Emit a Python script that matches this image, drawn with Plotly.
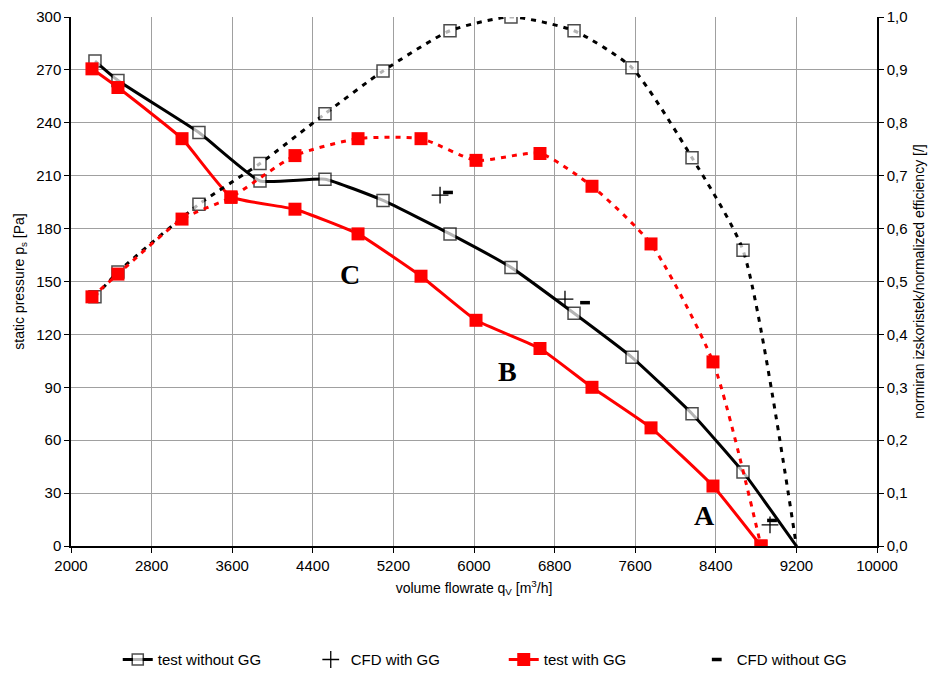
import plotly.graph_objects as go

# ---- data ----
q_nogg = [2238, 2466, 3270, 3876, 4521, 5097, 5762, 6367, 6993, 7568, 8164, 8670, 9200]
p_nogg = [275, 264, 234.5, 207, 208, 196, 177, 158, 132, 107, 75, 42, 0]
eff_nogg = [0.471, 0.518, 0.646, 0.723, 0.817, 0.898, 0.974, 1.0, 0.974, 0.904, 0.734, 0.559, 0.0]

q_gg = [2208, 2466, 3102, 3588, 4223, 4849, 5474, 6020, 6655, 7171, 7757, 8372, 8849]
p_gg = [270.6, 260, 231, 198, 191, 177, 153, 128, 112, 90, 67, 34, 0]
eff_gg = [0.471, 0.514, 0.618, 0.659, 0.738, 0.770, 0.770, 0.729, 0.742, 0.680, 0.571, 0.348, 0.0]

q_cfd_gg = [5663, 6903, 8938]
p_cfd_gg = [199, 140, 12]
q_cfd_nogg = [5742, 7102, 8958]
p_cfd_nogg = [200.5, 138, 14.5]

x_ticks = [2000, 2800, 3600, 4400, 5200, 6000, 6800, 7600, 8400, 9200, 10000]
y_ticks = [0, 30, 60, 90, 120, 150, 180, 210, 240, 270, 300]
y2_ticks = [0.0, 0.1, 0.2, 0.3, 0.4, 0.5, 0.6, 0.7, 0.8, 0.9, 1.0]
y2_labels = ["0,0", "0,1", "0,2", "0,3", "0,4", "0,5", "0,6", "0,7", "0,8", "0,9", "1,0"]

labels = ["C", "B", "A"]
label_x = [4769, 6335, 8292]
label_y = [154, 99, 17.5]

# ---- figure ----
fig = go.Figure()

sq_sizes_nogg = [12] * (len(q_nogg) - 1) + [0]

# black efficiency (dashed)
fig.add_trace(go.Scatter(
    x=q_nogg, y=eff_nogg, yaxis="y2", mode="lines+markers", showlegend=False,
    line=dict(color="black", width=3, dash="5px,6px", shape="spline", smoothing=0.6),
    marker=dict(symbol="square", size=sq_sizes_nogg, color="white",
                line=dict(color="black", width=1.5)),
))
# black pressure
fig.add_trace(go.Scatter(
    x=q_nogg, y=p_nogg, mode="lines+markers", name="test without GG",
    line=dict(color="black", width=3, shape="spline", smoothing=0.4),
    marker=dict(symbol="square", size=sq_sizes_nogg, color="white",
                line=dict(color="black", width=1.5)),
))
# CFD with GG
fig.add_trace(go.Scatter(
    x=q_cfd_gg, y=p_cfd_gg, mode="markers", name="CFD with GG",
    marker=dict(symbol="cross-thin", size=12, color="black",
                line=dict(color="black", width=1.3)),
))
# red efficiency (dashed)
fig.add_trace(go.Scatter(
    x=q_gg, y=eff_gg, yaxis="y2", mode="lines+markers", showlegend=False,
    line=dict(color="#ff0000", width=3, dash="5px,6px", shape="spline", smoothing=0.6),
    marker=dict(symbol="square", size=13, color="#ff0000"),
))
# red pressure
fig.add_trace(go.Scatter(
    x=q_gg, y=p_gg, mode="lines+markers", name="test with GG",
    line=dict(color="#ff0000", width=3, shape="spline", smoothing=0.4),
    marker=dict(symbol="square", size=13, color="#ff0000"),
))
# CFD without GG
fig.add_trace(go.Scatter(
    x=q_cfd_nogg, y=p_cfd_nogg, mode="markers", name="CFD without GG",
    marker=dict(symbol="line-ew", size=7, color="black",
                line=dict(color="black", width=3.5)),
))

for t, lx, ly in zip(labels, label_x, label_y):
    fig.add_annotation(x=lx, y=ly, text=f"<b>{t}</b>", showarrow=False,
                       font=dict(family="Liberation Serif", size=28, color="black"))

axis_font = dict(family="Liberation Sans, Arial", size=15, color="black")
title_font = dict(family="Liberation Sans, Arial", size=14, color="black")

fig.update_layout(
    width=943, height=673,
    margin=dict(l=63, r=74, t=9, b=135, autoexpand=False),
    paper_bgcolor="white", plot_bgcolor="white",
    font=dict(family="Liberation Sans, Arial", size=15, color="black"),
    xaxis=dict(
        range=[2000, 10000], tickvals=x_ticks, ticktext=[str(v) for v in x_ticks],
        showgrid=True, gridcolor="#a0a0a0", gridwidth=1,
        showline=True, linecolor="black", linewidth=1.5,
        ticks="outside", ticklen=5, tickcolor="black",
        tickfont=axis_font, zeroline=False, automargin=False,
        ticklabeloverflow="allow",
        title=dict(text="volume flowrate q<sub>V</sub> [m<sup>3</sup>/h]", font=title_font, standoff=10),
    ),
    yaxis=dict(
        range=[0, 300], tickvals=y_ticks, ticktext=[str(v) for v in y_ticks],
        showgrid=True, gridcolor="#a0a0a0", gridwidth=1,
        showline=True, linecolor="black", linewidth=1.5,
        ticks="outside", ticklen=5, tickcolor="black",
        tickfont=axis_font, zeroline=False, automargin=False,
        ticklabeloverflow="allow",
        title=dict(text="static pressure p<sub>s</sub> [Pa]", font=title_font, standoff=8),
    ),
    yaxis2=dict(
        range=[0, 1], overlaying="y", side="right",
        tickvals=y2_ticks, ticktext=y2_labels,
        showgrid=False, showline=True, linecolor="black", linewidth=1.5,
        ticks="outside", ticklen=5, tickcolor="black",
        tickfont=axis_font, zeroline=False, automargin=False,
        ticklabeloverflow="allow",
        title=dict(text="normiran izskoristek/normalized efficiency [/]", font=title_font, standoff=8),
    ),
    legend=dict(
        orientation="h", x=0.058, xanchor="left", y=-0.215, yanchor="middle",
        font=dict(family="Liberation Sans, Arial", size=15, color="black"),
        entrywidth=148, entrywidthmode="pixels", itemwidth=30,
        bgcolor="rgba(0,0,0,0)",
    ),
)

fig.write_html("out.html")
